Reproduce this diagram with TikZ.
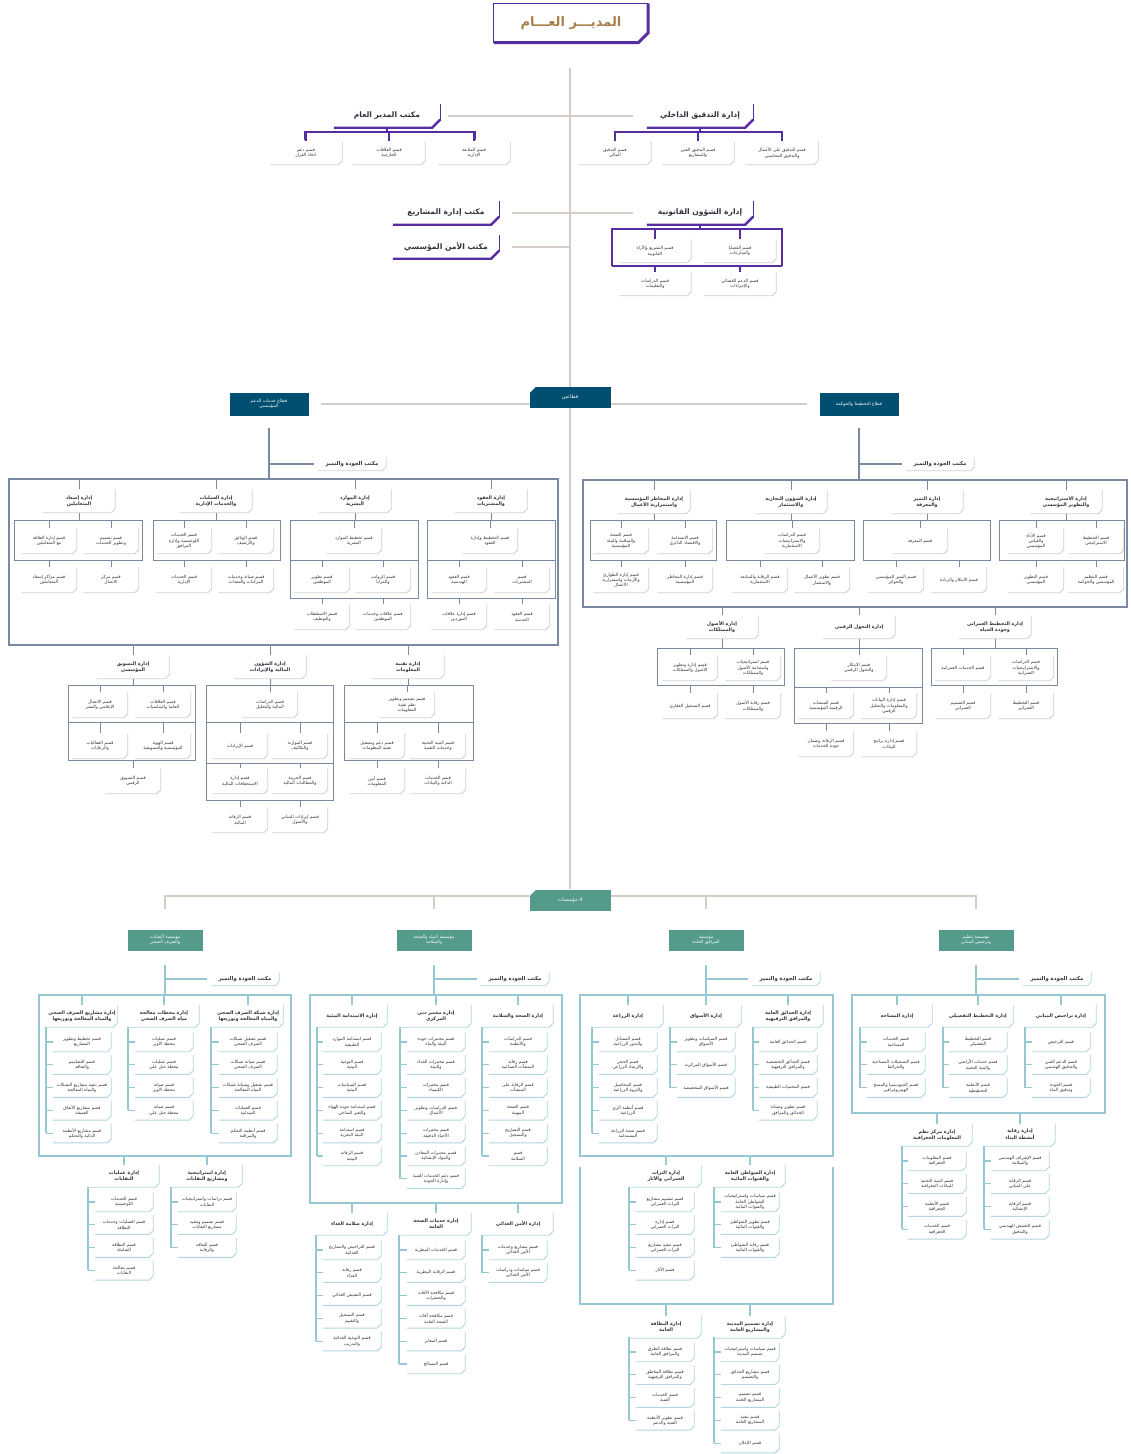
\documentclass[tikz,border=0pt]{standalone}
\usepackage{fontspec}
\setmainfont{DejaVu Sans}[Script=Arabic]
\TeXXeTstate=1
\usetikzlibrary{positioning, calc}
\pgfdeclarelayer{lines}
\pgfsetlayers{lines,main}

\definecolor{dmpurple}{RGB}{86, 46, 162}
\definecolor{titlegold}{RGB}{168, 128, 74}
\definecolor{trunkgray}{RGB}{210, 205, 199}
\definecolor{sectblue}{RGB}{0, 78, 112}
\definecolor{slate}{RGB}{122, 138, 162}
\definecolor{instteal}{RGB}{84, 155, 140}
\definecolor{tealline}{RGB}{150, 200, 212}
\definecolor{rimgray}{RGB}{208, 208, 212}
\definecolor{inkgray}{RGB}{50, 48, 58}

\newcommand{\rtext}[1]{\beginR #1\endR}

\tikzset{
  unitbox/.style={fill=white, align=center, inner sep=1pt, text=inkgray,
    minimum width=55pt, minimum height=25pt, font=\fontsize{4.4}{5.3}\selectfont},
  unitbox rim/.style={draw=rimgray, line width=0.9pt},
  pbox/.style={unitbox, minimum width=72pt, minimum height=23pt},
  pbox rim/.style={unitbox rim},
  deptbox/.style={unitbox, minimum width=72pt, minimum height=23pt,
    font=\bfseries\fontsize{4.8}{5.9}\selectfont},
  deptbox rim/.style={unitbox rim},
  ibox/.style={unitbox, minimum width=58pt, minimum height=19pt},
  ibox rim/.style={draw=tealline!75, line width=0.9pt},
  idept/.style={deptbox, minimum width=70pt, minimum height=22pt},
  idept rim/.style={ibox rim},
  quality/.style={unitbox, minimum width=68pt, minimum height=13pt,
    font=\bfseries\fontsize{5.3}{6}\selectfont},
  quality rim/.style={unitbox rim},
  iquality/.style={quality},
  iquality rim/.style={ibox rim},
  office/.style={unitbox, minimum width=106pt, minimum height=23pt,
    font=\bfseries\fontsize{7.6}{9}\selectfont},
  gmtitle/.style={fill=white, text=titlegold, minimum width=154pt, minimum height=39pt,
    font=\bfseries\fontsize{13}{15}\selectfont},
  sector/.style={fill=sectblue, text=white, align=center, inner sep=1pt,
    minimum width=79pt, minimum height=23pt, font=\fontsize{4.5}{5.5}\selectfont},
  institute/.style={sector, fill=instteal, minimum width=75pt, minimum height=21pt},
  tagbox/.style={sector, minimum width=81pt, minimum height=21pt,
    font=\fontsize{5}{6}\selectfont},
  trunk/.style={draw=trunkgray, line width=2.4pt},
  pline/.style={draw=dmpurple, line width=1.8pt},
  slatethin/.style={draw=slate, line width=0.9pt},
  slateframe/.style={draw=slate, line width=1.3pt},
  slatethick/.style={draw=slate, line width=1.9pt},
  tealthin/.style={draw=tealline, line width=1.1pt},
  tealframe/.style={draw=tealline, line width=1.6pt},
  tealthick/.style={draw=tealline, line width=2pt},
}

\newcommand{\boxat}[5][unitbox]{%
  \node[#1] (#2) at (#3,#4) {#5};
  \draw[#1 rim] (#2.north east) -- ([yshift=4pt]#2.south east)
    -- ([xshift=-4pt]#2.south east) -- (#2.south west);}
\newcommand{\officeat}[4]{%
  \node[office] (#1) at (#2,#3) {#4};
  \draw[dmpurple, line width=1.2pt] ([yshift=8pt]#1.south east) -- (#1.north east);
  \draw[dmpurple, line width=2.4pt] (#1.south west) -- ([xshift=-8pt]#1.south east)
    -- ([yshift=8pt]#1.south east);}
\newcommand{\tickup}[3][slatethin]{\draw[#1] (#2.north) -- (#2.north |- 0,#3);}
\newcommand{\tickdown}[3][slatethin]{\draw[#1] (#2.south) -- (#2.south |- 0,#3);}
\newcommand{\unitcol}[5]{%
  \foreach \t [count=\i] in {#5}{%
    \pgfmathsetmacro\yy{#4+(\i-1)*22.8}%
    \pgfmathsetmacro\seg{\i==1 ? 15 : 22.8}%
    \boxat[ibox]{#1-\i}{#3}{\yy}{\t}%
    \draw[tealthin] (#2,\yy) -- ++(0,-\seg);
    \draw[tealthin] (#2,\yy) -- (#1-\i.west);
  }}

\begin{document}
\begin{tikzpicture}[x=1pt, y=-1pt]
  \begin{pgfonlayer}{lines}
    \fill[white] (0,0) rectangle (1130,1454);
  \end{pgfonlayer}
  \useasboundingbox (0,0) rectangle (1130,1454);

  % General manager
  \node[gmtitle] (gm) at (571,23) {\rtext{المديـــر العـــام}};
  \draw[dmpurple, line width=1.2pt] (gm.south west) -- (gm.north west) -- (gm.north east);
  \draw[dmpurple, line width=3pt] (gm.south west) -- ([xshift=-10pt]gm.south east)
    -- ([yshift=10pt]gm.south east) -- (gm.north east);
  \coordinate (trunktop) at (570,68);
  \coordinate (trunkend) at (570,889);

  % Offices under the general manager
  \officeat{gmo}{387}{116}{\rtext{مكتب المدير العام}}
  \officeat{ia}{700}{116}{\rtext{إدارة التدقيق الداخلي}}
  \officeat{la}{700}{213}{\rtext{إدارة الشؤون القانونية}}
  \officeat{pmo}{446}{213}{\rtext{مكتب إدارة المشاريع}}
  \officeat{sec}{446}{247}{\rtext{مكتب الأمن المؤسسي}}

  \boxat[pbox]{g1}{306}{153}{\rtext{قسم دعم}\\\rtext{اتخاذ القرار}}
  \boxat[pbox]{g2}{389}{153}{\rtext{قسم العلاقات}\\\rtext{الخارجية}}
  \boxat[pbox]{g3}{474}{153}{\rtext{قسم المتابعة}\\\rtext{الإدارية}}
  \draw[pline] (305,140) -- (305,132) -- (475,132) -- (475,140);
  \tickdown[pline]{gmo}{132}
  \foreach \b in {g1,g2,g3} {\tickup[pline]{\b}{132}}

  \boxat[pbox]{i1}{615}{153}{\rtext{قسم التدقيق}\\\rtext{المالي}}
  \boxat[pbox]{i2}{698}{153}{\rtext{قسم التدقيق الفني}\\\rtext{والمشاريع}}
  \boxat[pbox]{i3}{782}{153}{\rtext{قسم التدقيق على الأعمال}\\\rtext{والتدقيق المحاسبي}}
  \draw[pline] (615,140) -- (615,132) -- (782,132) -- (782,140);
  \tickdown[pline]{ia}{132}
  \foreach \b in {i1,i2,i3} {\tickup[pline]{\b}{132}}

  \boxat[pbox]{l1}{655}{251}{\rtext{قسم التشريع والآراء}\\\rtext{القانونية}}
  \boxat[pbox]{l2}{740}{251}{\rtext{قسم القضايا}\\\rtext{والمنازعات}}
  \boxat[pbox]{l3}{655}{284}{\rtext{قسم الدراسات}\\\rtext{والتعليمات}}
  \boxat[pbox]{l4}{740}{284}{\rtext{قسم الدعم القضائي}\\\rtext{والإجراءات}}
  \draw[pline] (612,266) -- (612,229) -- (782,229) -- (782,266);
  \draw[dmpurple, line width=2.6pt] (612,266) -- (782,266);
  \tickdown[pline]{la}{229}
  \foreach \b in {l1,l2} {\tickup[pline]{\b}{229}}
  \foreach \b in {l3,l4} {\tickup[pline]{\b}{266}}

  % Two sectors
  \node[tagbox] (tb) at (570,397) {\rtext{قطاعين}};
  \fill[white] (tb.north west) -- ([xshift=7pt]tb.north west) -- ([yshift=-7pt]tb.north west) -- cycle;
  \node[sector] (ssb) at (269,404) {\rtext{قطاع خدمات الدعم}\\\rtext{المؤسسي}};
  \node[sector] (psg) at (859,404) {\rtext{قطاع التخطيط والحوكمة}};

  % Support services sector
  \boxat[quality]{qL}{352}{464}{\rtext{مكتب الجودة والتميز}}
  \draw[slatethick] ([yshift=-12pt]ssb.south) -- (ssb.south |- 0,479);
  \draw[slatethick] (ssb.south |- qL.west) -- ([xshift=-4pt]qL.west);
  \draw[slateframe] (9,479) rectangle (558,645);
  \boxat[deptbox]{d1}{79}{501}{\rtext{إدارة إسعاد}\\\rtext{المتعاملين}}
  \boxat[deptbox]{d2}{216}{501}{\rtext{إدارة العمليات}\\\rtext{والخدمات الإدارية}}
  \boxat[deptbox]{d3}{355}{501}{\rtext{إدارة الموارد}\\\rtext{البشرية}}
  \boxat[deptbox]{d4}{491}{501}{\rtext{إدارة العقود}\\\rtext{والمشتريات}}
  \foreach \d in {d1,d2,d3,d4} {\tickup{\d}{479} \tickdown{\d}{520}}

  \boxat{d1a}{49}{541}{\rtext{قسم إدارة العلاقة}\\\rtext{مع المتعاملين}}
  \boxat{d1b}{111}{541}{\rtext{قسم تصميم}\\\rtext{وتطوير الخدمات}}
  \boxat{d1c}{49}{580}{\rtext{قسم مراكز إسعاد}\\\rtext{المتعاملين}}
  \boxat{d1d}{111}{580}{\rtext{قسم مركز}\\\rtext{الاتصال}}
  \draw[slatethin] (14,520) rectangle (142,560);

  \boxat{d2a}{184}{541}{\rtext{قسم الخدمات}\\\rtext{اللوجستية وإدارة}\\\rtext{المرافق}}
  \boxat{d2b}{246}{541}{\rtext{قسم الوثائق}\\\rtext{والأرشيف}}
  \boxat{d2c}{184}{580}{\rtext{قسم الخدمات}\\\rtext{الإدارية}}
  \boxat{d2d}{246}{580}{\rtext{قسم صيانة وخدمات}\\\rtext{المركبات والمعدات}}
  \draw[slatethin] (153,520) rectangle (280,560);

  \boxat{d3a}{354}{541}{\rtext{قسم تخطيط الموارد}\\\rtext{البشرية}}
  \boxat{d3b}{322}{580}{\rtext{قسم تطوير}\\\rtext{الموظفين}}
  \boxat{d3c}{383}{580}{\rtext{قسم الرواتب}\\\rtext{والمزايا}}
  \boxat{d3d}{322}{617}{\rtext{قسم الاستقطاب}\\\rtext{والتوظيف}}
  \boxat{d3e}{383}{617}{\rtext{قسم علاقات وخدمات}\\\rtext{الموظفين}}
  \draw[slatethin] (290,520) rectangle (418,598) (290,560) -- (418,560);

  \boxat{d4a}{490}{541}{\rtext{قسم التخطيط وإدارة}\\\rtext{العقود}}
  \boxat{d4b}{459}{580}{\rtext{قسم العقود}\\\rtext{الهندسية}}
  \boxat{d4c}{522}{580}{\rtext{قسم}\\\rtext{المشتريات}}
  \boxat{d4d}{459}{617}{\rtext{قسم إدارة علاقات}\\\rtext{الموردين}}
  \boxat{d4e}{522}{617}{\rtext{قسم العقود}\\\rtext{الخدمية}}
  \draw[slatethin] (427,520) rectangle (555,598) (427,560) -- (555,560);

  \foreach \b in {d1a,d1b,d2a,d2b,d3a,d4a} {\tickup{\b}{520}}
  \foreach \b in {d1c,d1d,d2c,d2d,d3b,d3c,d4b,d4c} {\tickup{\b}{560}}
  \foreach \b in {d3d,d3e,d4d,d4e} {\tickup{\b}{598}}

  \boxat[deptbox]{d5}{133}{667}{\rtext{إدارة التسويق}\\\rtext{المؤسسي}}
  \boxat[deptbox]{d6}{270}{667}{\rtext{إدارة الشؤون}\\\rtext{المالية والإيرادات}}
  \boxat[deptbox]{d7}{408}{667}{\rtext{إدارة تقنية}\\\rtext{المعلومات}}
  \foreach \d in {d5,d6,d7} {\tickup{\d}{645} \tickdown{\d}{685}}

  \boxat{d5a}{100}{705}{\rtext{قسم الاتصال}\\\rtext{الإعلامي والنشر}}
  \boxat{d5b}{163}{705}{\rtext{قسم العلاقات}\\\rtext{العامة والمناسبات}}
  \boxat{d5c}{100}{746}{\rtext{قسم الفعاليات}\\\rtext{والرعايات}}
  \boxat{d5d}{163}{746}{\rtext{قسم الهوية}\\\rtext{المؤسسية والتسويقية}}
  \boxat{d5e}{133}{781}{\rtext{قسم التسويق}\\\rtext{الرقمي}}
  \draw[slatethin] (68,685) rectangle (195,760) (68,722) -- (195,722);

  \boxat{d6a}{270}{705}{\rtext{قسم الدراسات}\\\rtext{المالية والتحليل}}
  \boxat{d6b}{240}{746}{\rtext{قسم الإيرادات}}
  \boxat{d6c}{300}{746}{\rtext{قسم الموازنة}\\\rtext{والتكاليف}}
  \boxat{d6d}{240}{781}{\rtext{قسم إدارة}\\\rtext{الاستحقاقات المالية}}
  \boxat{d6e}{300}{781}{\rtext{قسم الخزينة}\\\rtext{والمطالبات المالية}}
  \boxat{d6f}{240}{820}{\rtext{قسم الرقابة}\\\rtext{المالية}}
  \boxat{d6g}{300}{820}{\rtext{قسم إيرادات المباني}\\\rtext{والأصول}}
  \draw[slatethin] (206,685) rectangle (333,800) (206,722) -- (333,722) (206,763) -- (333,763);

  \boxat{d7a}{407}{705}{\rtext{قسم تصميم وتطوير}\\\rtext{نظم تقنية}\\\rtext{المعلومات}}
  \boxat{d7b}{377}{746}{\rtext{قسم دعم وتشغيل}\\\rtext{تقنية المعلومات}}
  \boxat{d7c}{438}{746}{\rtext{قسم البنية التحتية}\\\rtext{وخدمات التقنية}}
  \boxat{d7d}{377}{781}{\rtext{قسم أمن}\\\rtext{المعلومات}}
  \boxat{d7e}{438}{781}{\rtext{قسم الخدمات}\\\rtext{الذكية والبيانات}}
  \draw[slatethin] (344,685) rectangle (473,760) (344,722) -- (473,722);

  \foreach \b in {d5a,d5b,d6a,d7a} {\tickup{\b}{685}}
  \foreach \b in {d5c,d5d,d6b,d6c,d7b,d7c} {\tickup{\b}{722}}
  \foreach \b in {d5e,d7d,d7e} {\tickup{\b}{760}}
  \foreach \b in {d6d,d6e} {\tickup{\b}{763}}
  \foreach \b in {d6f,d6g} {\tickup{\b}{800}}

  % Planning and governance sector
  \boxat[quality]{qR}{940}{464}{\rtext{مكتب الجودة والتميز}}
  \draw[slatethick] ([yshift=-12pt]psg.south) -- (psg.south |- 0,480);
  \draw[slatethick] (psg.south |- qR.west) -- ([xshift=-4pt]qR.west);
  \draw[slateframe] (583,480) rectangle (1127,607);
  \boxat[deptbox]{e1}{654}{502}{\rtext{إدارة المخاطر المؤسسية}\\\rtext{واستمرارية الأعمال}}
  \boxat[deptbox]{e2}{791}{502}{\rtext{إدارة الشؤون التجارية}\\\rtext{والاستثمار}}
  \boxat[deptbox]{e3}{927}{502}{\rtext{إدارة التميز}\\\rtext{والمعرفة}}
  \boxat[deptbox]{e4}{1066}{502}{\rtext{إدارة الاستراتيجية}\\\rtext{والتطوير المؤسسي}}
  \foreach \d in {e1,e2,e3,e4} {\tickup{\d}{480} \tickdown{\d}{520}}

  \boxat{e1a}{621}{541}{\rtext{قسم الصحة}\\\rtext{والسلامة والبيئة}\\\rtext{المؤسسية}}
  \boxat{e1b}{685}{541}{\rtext{قسم الاستدامة}\\\rtext{والاقتصاد الدائري}}
  \boxat{e1c}{621}{580}{\rtext{قسم إدارة الطوارئ}\\\rtext{والأزمات واستمرارية}\\\rtext{الأعمال}}
  \boxat{e1d}{685}{580}{\rtext{قسم إدارة المخاطر}\\\rtext{المؤسسية}}
  \draw[slatethin] (590,520) rectangle (716,560);

  \boxat{e2a}{792}{541}{\rtext{قسم الدراسات}\\\rtext{والاستراتيجيات}\\\rtext{الاستثمارية}}
  \boxat{e2b}{760}{580}{\rtext{قسم الرقابة والمتابعة}\\\rtext{الاستثمارية}}
  \boxat{e2c}{822}{580}{\rtext{قسم تطوير الأعمال}\\\rtext{والاستثمار}}
  \draw[slatethin] (726,520) rectangle (854,560);

  \boxat{e3a}{920}{541}{\rtext{قسم المعرفة}}
  \boxat{e3b}{896}{580}{\rtext{قسم التميز المؤسسي}\\\rtext{والجوائز}}
  \boxat{e3c}{959}{580}{\rtext{قسم الابتكار والريادة}}
  \draw[slatethin] (863,520) rectangle (990,560);

  \boxat{e4a}{1036}{541}{\rtext{قسم الأداء}\\\rtext{والقياس}\\\rtext{المؤسسي}}
  \boxat{e4b}{1096}{541}{\rtext{قسم التخطيط}\\\rtext{الاستراتيجي}}
  \boxat{e4c}{1036}{580}{\rtext{قسم التطوير}\\\rtext{المؤسسي}}
  \boxat{e4d}{1096}{580}{\rtext{قسم التنظيم}\\\rtext{المؤسسي والحوكمة}}
  \draw[slatethin] (999,520) rectangle (1124,560);

  \foreach \b in {e1a,e1b,e2a,e3a,e4a,e4b} {\tickup{\b}{520}}
  \foreach \b in {e1c,e1d,e2b,e2c,e3b,e3c,e4c,e4d} {\tickup{\b}{560}}

  \boxat[deptbox]{f1}{722}{627}{\rtext{إدارة الأصول}\\\rtext{والممتلكات}}
  \boxat[deptbox]{f2}{859}{627}{\rtext{إدارة التحول الرقمي}}
  \boxat[deptbox]{f3}{995}{627}{\rtext{إدارة التخطيط العمراني}\\\rtext{وجودة الحياة}}
  \foreach \d in {f1,f2,f3} {\tickup{\d}{607} \tickdown{\d}{648}}

  \boxat{f1a}{690}{668}{\rtext{قسم إدارة وتطوير}\\\rtext{الأصول والممتلكات}}
  \boxat{f1b}{753}{668}{\rtext{قسم استراتيجيات}\\\rtext{واستدامة الأصول}\\\rtext{والممتلكات}}
  \boxat{f1c}{690}{706}{\rtext{قسم التسجيل العقاري}}
  \boxat{f1d}{753}{706}{\rtext{قسم رقابة الأصول}\\\rtext{والممتلكات}}
  \draw[slatethin] (657,648) rectangle (784,685);

  \boxat{f2a}{859}{668}{\rtext{قسم الابتكار}\\\rtext{والتحول الرقمي}}
  \boxat{f2b}{826}{706}{\rtext{قسم المنصات}\\\rtext{الرقمية المؤسسية}}
  \boxat{f2c}{889}{706}{\rtext{قسم إدارة البيانات}\\\rtext{والمعلومات والتحليل}\\\rtext{الرقمي}}
  \boxat{f2d}{826}{744}{\rtext{قسم الرقابة وضمان}\\\rtext{جودة الخدمات}}
  \boxat{f2e}{889}{744}{\rtext{قسم إدارة برامج}\\\rtext{البيانات}}
  \draw[slatethin] (794,648) rectangle (922,723) (794,687) -- (922,687);

  \boxat{f3a}{963}{668}{\rtext{قسم الخدمات العمرانية}}
  \boxat{f3b}{1026}{668}{\rtext{قسم الدراسات}\\\rtext{والاستراتيجيات}\\\rtext{العمرانية}}
  \boxat{f3c}{963}{706}{\rtext{قسم التصميم}\\\rtext{العمراني}}
  \boxat{f3d}{1026}{706}{\rtext{قسم التخطيط}\\\rtext{العمراني}}
  \draw[slatethin] (931,648) rectangle (1057,685);

  \foreach \b in {f1a,f1b,f2a,f3a,f3b} {\tickup{\b}{648}}
  \foreach \b in {f1c,f1d,f3c,f3d} {\tickup{\b}{685}}
  \foreach \b in {f2b,f2c} {\tickup{\b}{687}}
  \foreach \b in {f2d,f2e} {\tickup{\b}{723}}

  % Four institutions
  \node[tagbox, fill=instteal] (inst) at (570,900) {\rtext{4 مؤسسات}};
  \fill[white] (inst.north west) -- ([xshift=7pt]inst.north west) -- ([yshift=-7pt]inst.north west) -- cycle;
  \node[institute] (n1) at (165,940) {\rtext{مؤسسة النفايات}\\\rtext{والصرف الصحي}};
  \node[institute] (n2) at (434,940) {\rtext{مؤسسة البيئة والصحة}\\\rtext{والسلامة}};
  \node[institute] (n3) at (706,940) {\rtext{مؤسسة}\\\rtext{المرافق العامة}};
  \node[institute] (n4) at (976,940) {\rtext{مؤسسة تنظيم}\\\rtext{وترخيص المباني}};

  \boxat[iquality]{q1}{245}{979}{\rtext{مكتب الجودة والتميز}}
  \boxat[iquality]{q2}{515}{979}{\rtext{مكتب الجودة والتميز}}
  \boxat[iquality]{q3}{786}{979}{\rtext{مكتب الجودة والتميز}}
  \boxat[iquality]{q4}{1057}{979}{\rtext{مكتب الجودة والتميز}}
  \foreach \n/\q in {n1/q1,n2/q2,n3/q3,n4/q4} {
    \draw[tealthick] ([yshift=-14pt]\n.south) -- (\n.south |- 0,995);
    \draw[tealthick] (\n.south |- \q.west) -- ([xshift=-4pt]\q.west);
  }

  % Waste and sewerage
  \draw[tealframe] (39,995) rectangle (291,1156);
  \boxat[idept]{a1}{82}{1016}{\rtext{إدارة مشاريع الصرف الصحي}\\\rtext{والمياه المعالجة وتوزيعها}}
  \boxat[idept]{a2}{164}{1016}{\rtext{إدارة محطات معالجة}\\\rtext{مياه الصرف الصحي}}
  \boxat[idept]{a3}{248}{1016}{\rtext{إدارة شبكة الصرف الصحي}\\\rtext{والمياه المعالجة وتوزيعها}}
  \foreach \d in {a1,a2,a3} {\tickup[tealthin]{\d}{995}}
  \unitcol{a1}{46}{82}{1042}{{\rtext{قسم تخطيط وتطوير}\\\rtext{المشاريع}}, {\rtext{قسم التصاميم}\\\rtext{والتعاقد}},
    {\rtext{قسم تنفيذ مشاريع الشبكات}\\\rtext{والمياه المعالجة}}, {\rtext{قسم مشاريع الأنفاق}\\\rtext{العميقة}},
    {\rtext{قسم مشاريع الأنظمة}\\\rtext{الذكية والتحكم}}}
  \unitcol{a2}{128}{164}{1042}{{\rtext{قسم عمليات}\\\rtext{محطة الأوير}}, {\rtext{قسم عمليات}\\\rtext{محطة جبل علي}},
    {\rtext{قسم صيانة}\\\rtext{محطة الأوير}}, {\rtext{قسم صيانة}\\\rtext{محطة جبل علي}}}
  \unitcol{a3}{211}{248}{1042}{{\rtext{قسم تشغيل شبكات}\\\rtext{الصرف الصحي}}, {\rtext{قسم صيانة شبكات}\\\rtext{الصرف الصحي}},
    {\rtext{قسم تشغيل وصيانة شبكات}\\\rtext{المياه المعالجة}}, {\rtext{قسم العمليات}\\\rtext{الميدانية}},
    {\rtext{قسم أنظمة التحكم}\\\rtext{والمراقبة}}}
  \boxat[idept]{b1}{124}{1176}{\rtext{إدارة عمليات}\\\rtext{النفايات}}
  \boxat[idept]{b2}{207}{1176}{\rtext{إدارة استراتيجية}\\\rtext{ومشاريع النفايات}}
  \foreach \d in {b1,b2} {\tickup[tealthin]{\d}{1156}}
  \unitcol{b1}{88}{124}{1202}{{\rtext{قسم الخدمات}\\\rtext{اللوجستية}}, {\rtext{قسم العمليات وخدمات}\\\rtext{النظافة}},
    {\rtext{قسم النظافة}\\\rtext{الشاملة}}, {\rtext{قسم معالجة}\\\rtext{النفايات}}}
  \unitcol{b2}{171}{207}{1202}{{\rtext{قسم دراسات واستراتيجيات}\\\rtext{النفايات}}, {\rtext{قسم تصميم وتنفيذ}\\\rtext{مشاريع النفايات}},
    {\rtext{قسم التعاقد}\\\rtext{والرقابة}}}

  % Environment, health and safety
  \draw[tealframe] (310,995) rectangle (562,1203);
  \boxat[idept]{c1}{352}{1016}{\rtext{إدارة الاستدامة البيئية}}
  \boxat[idept]{c2}{436}{1016}{\rtext{إدارة مختبر دبي}\\\rtext{المركزي}}
  \boxat[idept]{c3}{518}{1016}{\rtext{إدارة الصحة والسلامة}}
  \foreach \d in {c1,c2,c3} {\tickup[tealthin]{\d}{995}}
  \unitcol{c1}{317}{352}{1042}{{\rtext{قسم استدامة الموارد}\\\rtext{الطبيعية}}, {\rtext{قسم التوعية}\\\rtext{البيئية}},
    {\rtext{قسم السياسات}\\\rtext{البيئية}}, {\rtext{قسم استدامة جودة الهواء}\\\rtext{والتغير المناخي}},
    {\rtext{قسم استدامة}\\\rtext{البيئة البحرية}}, {\rtext{قسم الرقابة}\\\rtext{البيئية}}}
  \unitcol{c2}{400}{436}{1042}{{\rtext{قسم مختبرات جودة}\\\rtext{البيئة والبناء}}, {\rtext{قسم مختبرات الغذاء}\\\rtext{والبيئة}},
    {\rtext{قسم مختبرات}\\\rtext{الكيمياء}}, {\rtext{قسم الدراسات وتطوير}\\\rtext{الأعمال}},
    {\rtext{قسم مختبرات}\\\rtext{الأحياء الدقيقة}}, {\rtext{قسم مختبرات المعادن}\\\rtext{والمواد الإنشائية}},
    {\rtext{قسم دعم الخدمات الفنية}\\\rtext{وإدارة الجودة}}}
  \unitcol{c3}{482}{518}{1042}{{\rtext{قسم الدراسات}\\\rtext{والأنظمة}}, {\rtext{قسم رقابة}\\\rtext{المنشآت الصناعية}},
    {\rtext{قسم الرقابة على}\\\rtext{المنشآت}}, {\rtext{قسم الصحة}\\\rtext{المهنية}},
    {\rtext{قسم التصاريح}\\\rtext{والتسجيل}}, {\rtext{قسم}\\\rtext{السلامة}}}
  \boxat[idept]{c4}{352}{1224}{\rtext{إدارة سلامة الغذاء}}
  \boxat[idept]{c5}{436}{1224}{\rtext{إدارة خدمات الصحة}\\\rtext{العامة}}
  \boxat[idept]{c6}{518}{1224}{\rtext{إدارة الأمن الغذائي}}
  \foreach \d in {c4,c5,c6} {\tickup[tealthin]{\d}{1203}}
  \unitcol{c4}{316}{352}{1250}{{\rtext{قسم التراخيص والتصاريح}\\\rtext{الغذائية}}, {\rtext{قسم رقابة}\\\rtext{الغذاء}},
    {\rtext{قسم التفتيش الغذائي}}, {\rtext{قسم التسجيل}\\\rtext{والتقييم}},
    {\rtext{قسم التوعية الغذائية}\\\rtext{والتدريب}}}
  \unitcol{c5}{399}{436}{1250}{{\rtext{قسم الخدمات البيطرية}}, {\rtext{قسم الرقابة البيطرية}},
    {\rtext{قسم مكافحة الآفات}\\\rtext{والحشرات}}, {\rtext{قسم مكافحة آفات}\\\rtext{الصحة العامة}},
    {\rtext{قسم المقابر}}, {\rtext{قسم المسالخ}}}
  \unitcol{c6}{482}{518}{1250}{{\rtext{قسم مشاريع وخدمات}\\\rtext{الأمن الغذائي}}, {\rtext{قسم سياسات ودراسات}\\\rtext{الأمن الغذائي}}}

  % Public facilities
  \draw[tealframe] (580,995) rectangle (833,1156);
  \draw[tealframe] (580,1167) -- (580,1304) -- (833,1304) -- (833,1167);
  \boxat[idept]{h1}{628}{1016}{\rtext{إدارة الزراعة}}
  \boxat[idept]{h2}{706}{1016}{\rtext{إدارة الأسواق}}
  \boxat[idept]{h3}{788}{1016}{\rtext{إدارة الحدائق العامة}\\\rtext{والمرافق الترفيهية}}
  \foreach \d in {h1,h2,h3} {\tickup[tealthin]{\d}{995}}
  \unitcol{h1}{592}{628}{1042}{{\rtext{قسم المشاتل}\\\rtext{والبذور الزراعية}}, {\rtext{قسم الحجر}\\\rtext{والإرشاد الزراعي}},
    {\rtext{قسم المحاصيل}\\\rtext{والثروة الزراعية}}, {\rtext{قسم أنظمة الري}\\\rtext{الزراعية}},
    {\rtext{قسم صحة الزراعة}\\\rtext{المستدامة}}}
  \unitcol{h2}{670}{706}{1042}{{\rtext{قسم السياسات وتطوير}\\\rtext{الأسواق}}, {\rtext{قسم الأسواق المركزية}},
    {\rtext{قسم الأسواق المتخصصة}}}
  \unitcol{h3}{753}{788}{1042}{{\rtext{قسم الحدائق العامة}}, {\rtext{قسم الحدائق التخصصية}\\\rtext{والمرافق الترفيهية}},
    {\rtext{قسم المحميات الطبيعية}}, {\rtext{قسم تطوير وصيانة}\\\rtext{الحدائق والمرافق}}}
  \boxat[idept]{h4}{666}{1176}{\rtext{إدارة التراث}\\\rtext{العمراني والآثار}}
  \boxat[idept]{h5}{750}{1176}{\rtext{إدارة الشواطئ العامة}\\\rtext{والقنوات المائية}}
  \foreach \d in {h4,h5} {\tickup[tealthin]{\d}{1156}}
  \unitcol{h4}{629}{665}{1202}{{\rtext{قسم تصميم مشاريع}\\\rtext{التراث العمراني}}, {\rtext{قسم إدارة}\\\rtext{التراث العمراني}},
    {\rtext{قسم تنفيذ مشاريع}\\\rtext{التراث العمراني}}, {\rtext{قسم الآثار}}}
  \unitcol{h5}{714}{750}{1202}{{\rtext{قسم سياسات واستراتيجيات}\\\rtext{الشواطئ العامة}\\\rtext{والقنوات المائية}},
    {\rtext{قسم تطوير الشواطئ}\\\rtext{والقنوات المائية}}, {\rtext{قسم رقابة الشواطئ}\\\rtext{والقنوات المائية}}}
  \boxat[idept]{h6}{666}{1327}{\rtext{إدارة النظافة}\\\rtext{العامة}}
  \boxat[idept]{h7}{750}{1327}{\rtext{إدارة تصميم المدينة}\\\rtext{والمشاريع العامة}}
  \foreach \d in {h6,h7} {\tickup[tealthin]{\d}{1304}}
  \unitcol{h6}{629}{665}{1352}{{\rtext{قسم نظافة الطرق}\\\rtext{والمرافق العامة}}, {\rtext{قسم نظافة المناطق}\\\rtext{والمرافق الترفيهية}},
    {\rtext{قسم الخدمات}\\\rtext{الفنية}}, {\rtext{قسم تطوير الأنظمة}\\\rtext{الفنية والدعم}}}
  \unitcol{h7}{714}{750}{1352}{{\rtext{قسم سياسات واستراتيجيات}\\\rtext{تصميم المدينة}}, {\rtext{قسم مشاريع الحدائق}\\\rtext{والتصميم}},
    {\rtext{قسم تصميم}\\\rtext{المشاريع العامة}}, {\rtext{قسم تنفيذ}\\\rtext{المشاريع العامة}}, {\rtext{قسم الإعلان}}}

  % Building regulation and permits
  \draw[tealframe] (852,995) rectangle (1105,1113);
  \boxat[idept]{k1}{897}{1016}{\rtext{إدارة المساحة}}
  \boxat[idept]{k2}{978}{1016}{\rtext{إدارة التخطيط التفصيلي}}
  \boxat[idept]{k3}{1061}{1016}{\rtext{إدارة تراخيص المباني}}
  \foreach \d in {k1,k2,k3} {\tickup[tealthin]{\d}{995}}
  \unitcol{k1}{860}{896}{1042}{{\rtext{قسم الخدمات}\\\rtext{المساحية}}, {\rtext{قسم التسجيلات المساحية}\\\rtext{والخرائط}},
    {\rtext{قسم الجيوديسيا والمسح}\\\rtext{الهيدروغرافي}}}
  \unitcol{k2}{943}{978}{1042}{{\rtext{قسم التخطيط}\\\rtext{التفصيلي}}, {\rtext{قسم خدمات الأراضي}\\\rtext{والبنية التحتية}},
    {\rtext{قسم الأنظمة}\\\rtext{التخطيطية}}}
  \unitcol{k3}{1025}{1061}{1042}{{\rtext{قسم الترخيص}}, {\rtext{قسم الدعم الفني}\\\rtext{والتدقيق الهندسي}},
    {\rtext{قسم الجودة}\\\rtext{وتدقيق البناء}}}
  \boxat[idept]{k4}{937}{1135}{\rtext{إدارة مركز نظم}\\\rtext{المعلومات الجغرافية}}
  \boxat[idept]{k5}{1020}{1135}{\rtext{إدارة رقابة}\\\rtext{أنشطة البناء}}
  \foreach \d in {k4,k5} {\tickup[tealthin]{\d}{1113}}
  \unitcol{k4}{902}{937}{1161}{{\rtext{قسم المعلومات}\\\rtext{الجغرافية}}, {\rtext{قسم البنية التحتية}\\\rtext{للبيانات الجغرافية}},
    {\rtext{قسم الأنظمة}\\\rtext{الجغرافية}}, {\rtext{قسم الخدمات}\\\rtext{الجغرافية}}}
  \unitcol{k5}{984}{1020}{1161}{{\rtext{قسم الإشراف الهندسي}\\\rtext{والسلامة}}, {\rtext{قسم الرقابة}\\\rtext{على المباني}},
    {\rtext{قسم الرقابة}\\\rtext{الإنشائية}}, {\rtext{قسم التفتيش الهندسي}\\\rtext{والتدقيق}}}

  % Gray trunk behind the boxes
  \begin{pgfonlayer}{lines}
    \draw[trunk] (trunktop) -- (trunkend);
    \draw[trunk] ([xshift=8pt]gmo.east) -- ([xshift=-14pt]ia.west);
    \draw[trunk] ([xshift=13pt]pmo.east) -- ([xshift=-14pt]la.west);
    \draw[trunk] ([xshift=13pt]sec.east) -- (sec.east -| trunktop);
    \draw[trunk] ([xshift=12pt]ssb.east) -- ([xshift=-12pt]psg.west);
    \draw[trunk] ([yshift=20pt]n1.north) -- (n1.north |- 0,896) -- (n4.north |- 0,896) -- ([yshift=20pt]n4.north);
    \foreach \n in {n2,n3} {\draw[trunk] (\n.north |- 0,896) -- ([yshift=20pt]\n.north);}
  \end{pgfonlayer}
\end{tikzpicture}
\end{document}
